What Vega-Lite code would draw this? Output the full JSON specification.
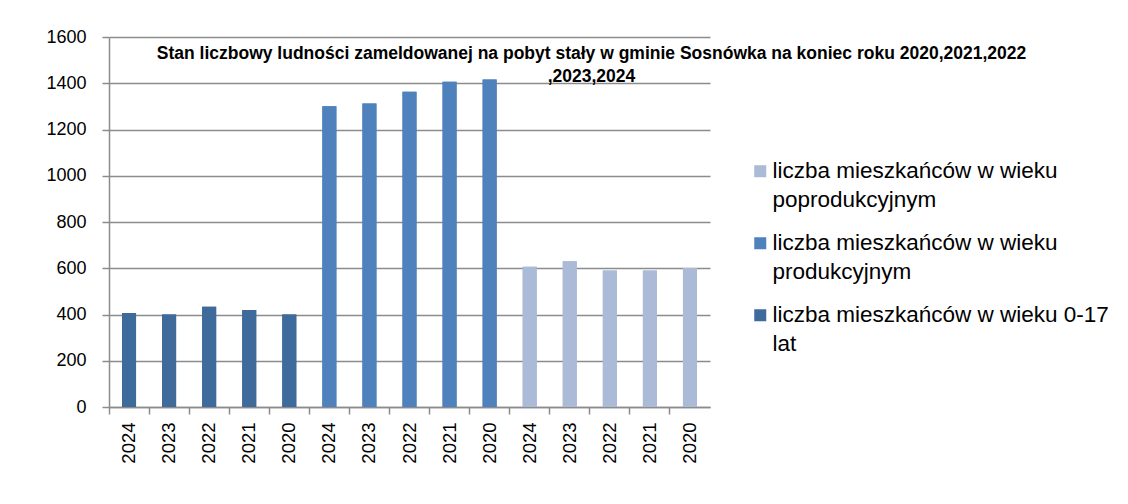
{
  "$schema": "https://vega.github.io/schema/vega-lite/v6.json",
  "width": 601,
  "height": 370,
  "autosize": "none",
  "padding": {"left": 109, "top": 37, "right": 418, "bottom": 97},
  "background": "white",
  "title": {
    "text": ["Stan liczbowy ludności zameldowanej na pobyt stały w gminie Sosnówka na koniec roku 2020,2021,2022", ",2023,2024"],
    "font": "Liberation Sans",
    "fontSize": 17.5,
    "fontWeight": "bold",
    "color": "black",
    "anchor": "middle",
    "frame": "group",
    "dx": 182,
    "dy": 50,
    "baseline": "top",
    "offset": -7,
    "lineHeight": 23
  },
  "data": {
    "values": [
      {"k": "a 2024", "g": "liczba mieszkańców w wieku 0-17 lat", "v": 407},
      {"k": "a 2023", "g": "liczba mieszkańców w wieku 0-17 lat", "v": 400},
      {"k": "a 2022", "g": "liczba mieszkańców w wieku 0-17 lat", "v": 433},
      {"k": "a 2021", "g": "liczba mieszkańców w wieku 0-17 lat", "v": 420},
      {"k": "a 2020", "g": "liczba mieszkańców w wieku 0-17 lat", "v": 400},
      {"k": "b 2024", "g": "liczba mieszkańców w wieku produkcyjnym", "v": 1301},
      {"k": "b 2023", "g": "liczba mieszkańców w wieku produkcyjnym", "v": 1312},
      {"k": "b 2022", "g": "liczba mieszkańców w wieku produkcyjnym", "v": 1363},
      {"k": "b 2021", "g": "liczba mieszkańców w wieku produkcyjnym", "v": 1406},
      {"k": "b 2020", "g": "liczba mieszkańców w wieku produkcyjnym", "v": 1416},
      {"k": "c 2024", "g": "liczba mieszkańców w wieku poprodukcyjnym", "v": 606},
      {"k": "c 2023", "g": "liczba mieszkańców w wieku poprodukcyjnym", "v": 630},
      {"k": "c 2022", "g": "liczba mieszkańców w wieku poprodukcyjnym", "v": 590},
      {"k": "c 2021", "g": "liczba mieszkańców w wieku poprodukcyjnym", "v": 590},
      {"k": "c 2020", "g": "liczba mieszkańców w wieku poprodukcyjnym", "v": 601}
    ]
  },
  "encoding": {
    "y": {
      "field": "v",
      "type": "quantitative",
      "scale": {"domain": [0, 1600], "nice": false},
      "axis": {
        "title": null,
        "values": [0, 200, 400, 600, 800, 1000, 1200, 1400, 1600],
        "format": "d",
        "labelFont": "Liberation Sans",
        "labelFontSize": 18,
        "labelColor": "black",
        "labelPadding": 16,
        "domainColor": "#8c8c8c",
        "domainWidth": 1.5,
        "tickColor": "#8c8c8c",
        "tickWidth": 1.5,
        "tickSize": 7,
        "grid": true,
        "gridColor": "#8c8c8c",
        "gridWidth": 1.5
      }
    },
    "color": {
      "field": "g",
      "type": "nominal",
      "scale": {
        "domain": ["liczba mieszkańców w wieku poprodukcyjnym", "liczba mieszkańców w wieku produkcyjnym", "liczba mieszkańców w wieku 0-17 lat"],
        "range": ["#aabad7", "#4f81bd", "#3f6a9c"]
      },
      "legend": {
        "title": null,
        "orient": "none",
        "legendX": 640,
        "legendY": 123,
        "symbolType": "square",
        "symbolSize": 144,
        "symbolStrokeWidth": 0,
        "labelFont": "Liberation Sans",
        "labelFontSize": 22.5,
        "labelColor": "black",
        "labelLimit": 400,
        "labelOffset": 1,
        "rowPadding": 20,
        "labelExpr": "indexof(datum.label, '0-17') >= 0 ? [slice(datum.label, 0, 31), 'lat'] : [slice(datum.label, 0, 26), slice(datum.label, 27)]",
        "encode": {"labels": {"update": {"lineHeight": {"value": 28.5}}}}
      }
    }
  },
  "layer": [
    {
      "mark": {"type": "bar", "width": {"band": 0.35}},
      "encoding": {
        "x": {
          "field": "k",
          "type": "nominal",
          "sort": null,
          "scale": {"paddingInner": 0, "paddingOuter": 0},
          "axis": {
            "orient": "bottom",
            "title": null,
            "labels": false,
            "bandPosition": 0,
            "domainColor": "#8c8c8c",
            "domainWidth": 1.5,
            "tickColor": "#8c8c8c",
            "tickWidth": 1.5,
            "tickSize": 7,
            "grid": false
          }
        }
      }
    },
    {
      "mark": {"type": "bar", "width": {"band": 0.35}},
      "encoding": {
        "x": {
          "field": "k",
          "type": "nominal",
          "sort": null,
          "axis": {
            "orient": "bottom",
            "title": null,
            "labelExpr": "slice(datum.label, -4)",
            "labelAngle": -90,
            "labelAlign": "right",
            "labelBaseline": "middle",
            "labelFont": "Liberation Sans",
            "labelFontSize": 18.5,
            "labelColor": "black",
            "labelPadding": 15,
            "domain": false,
            "ticks": false,
            "grid": false
          }
        }
      }
    }
  ],
  "resolve": {"axis": {"x": "independent"}},
  "config": {
    "view": {"stroke": null}
  }
}
